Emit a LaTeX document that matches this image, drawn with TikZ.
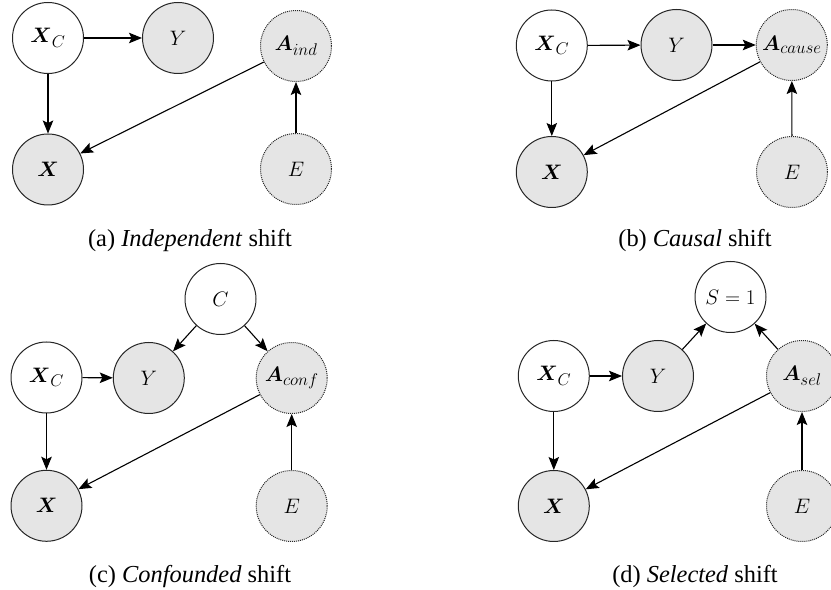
\RequirePackage{fix-cm}
\documentclass[tikz,border=0pt]{standalone}
\usepackage{amsmath}
\usepackage{fontspec}
\newfontfamily\capfont{Liberation Serif}
\DeclareMathSizes{21}{21}{17}{14}
\usetikzlibrary{arrows.meta}
\tikzset{
  var/.style={draw=black!85,circle,line width=1bp,minimum size=71bp,inner sep=0pt,font=\fontsize{21}{24}\selectfont},
  obs/.style={var,fill=black!10},
  env/.style={var,fill=black!10,densely dotted},
  subcap/.style={anchor=base,font=\fontsize{24.5}{28}\selectfont\capfont},
}
\begin{document}
\begin{tikzpicture}[>={Stealth[length=13bp,width=10.5bp,inset=2.5bp]},line width=1.1bp,line join=bevel,]
\useasboundingbox (0bp,0bp) rectangle (831bp,590bp);
%% (a)
\node (xc_a) at (48bp,552bp) [var] {$\boldsymbol{X}_C$};
  \node (y_a) at (178bp,552bp) [obs] {$Y$};
  \node (a_a) at (296bp,544bp) [env] {$\boldsymbol{A}_{ind}$};
  \node (x_a) at (48bp,420.5bp) [obs] {$\boldsymbol{X}$};
  \node (e_a) at (296bp,421bp) [env] {$E$};
  \draw [->] (xc_a) -- (y_a);
  \draw [->] (xc_a) -- (x_a);
  \draw [->] (a_a) -- (x_a);
  \draw [->] (e_a) -- (a_a);
  \node (cap_a) at (190bp,343bp) [subcap] {(a) \textit{Independent} shift};
%% (b)
\node (xc_b) at (551.8bp,544.5bp) [var] {$\boldsymbol{X}_C$};
  \node (y_b) at (676.5bp,545bp) [obs] {$Y$};
  \node (a_b) at (791.8bp,545bp) [env] {$\boldsymbol{A}_{cause}$};
  \node (x_b) at (551.8bp,418bp) [obs] {$\boldsymbol{X}$};
  \node (e_b) at (792bp,418bp) [env] {$E$};
  \draw [->] (xc_b) -- (y_b);
  \draw [->] (y_b) -- (a_b);
  \draw [->] (xc_b) -- (x_b);
  \draw [->] (a_b) -- (x_b);
  \draw [->] (e_b) -- (a_b);
  \node (cap_b) at (695bp,343bp) [subcap] {(b) \textit{Causal} shift};
%% (c)
\node (c_c) at (220.5bp,291bp) [var] {$C$};
  \node (xc_c) at (46.5bp,212.5bp) [var] {$\boldsymbol{X}_C$};
  \node (y_c) at (148.8bp,212bp) [obs] {$Y$};
  \node (a_c) at (291.7bp,212bp) [env] {$\boldsymbol{A}_{conf}$};
  \node (x_c) at (46.5bp,84.2bp) [obs] {$\boldsymbol{X}$};
  \node (e_c) at (291.7bp,84bp) [env] {$E$};
  \draw [->] (c_c) -- (y_c);
  \draw [->] (c_c) -- (a_c);
  \draw [->] (xc_c) -- (y_c);
  \draw [->] (xc_c) -- (x_c);
  \draw [->] (a_c) -- (x_c);
  \draw [->] (e_c) -- (a_c);
  \node (cap_c) at (190bp,8bp) [subcap] {(c) \textit{Confounded} shift};
%% (d)
\node (s_d) at (730.5bp,293bp) [var] {$S=1$};
  \node (xc_d) at (553.8bp,214bp) [var] {$\boldsymbol{X}_C$};
  \node (y_d) at (658bp,214bp) [obs] {$Y$};
  \node (a_d) at (802bp,214bp) [env] {$\boldsymbol{A}_{sel}$};
  \node (x_d) at (553.8bp,84bp) [obs] {$\boldsymbol{X}$};
  \node (e_d) at (802bp,84bp) [env] {$E$};
  \draw [->] (xc_d) -- (y_d);
  \draw [->] (y_d) -- (s_d);
  \draw [->] (a_d) -- (s_d);
  \draw [->] (xc_d) -- (x_d);
  \draw [->] (a_d) -- (x_d);
  \draw [->] (e_d) -- (a_d);
  \node (cap_d) at (695bp,8bp) [subcap] {(d) \textit{Selected} shift};
%
\end{tikzpicture}
\end{document}
